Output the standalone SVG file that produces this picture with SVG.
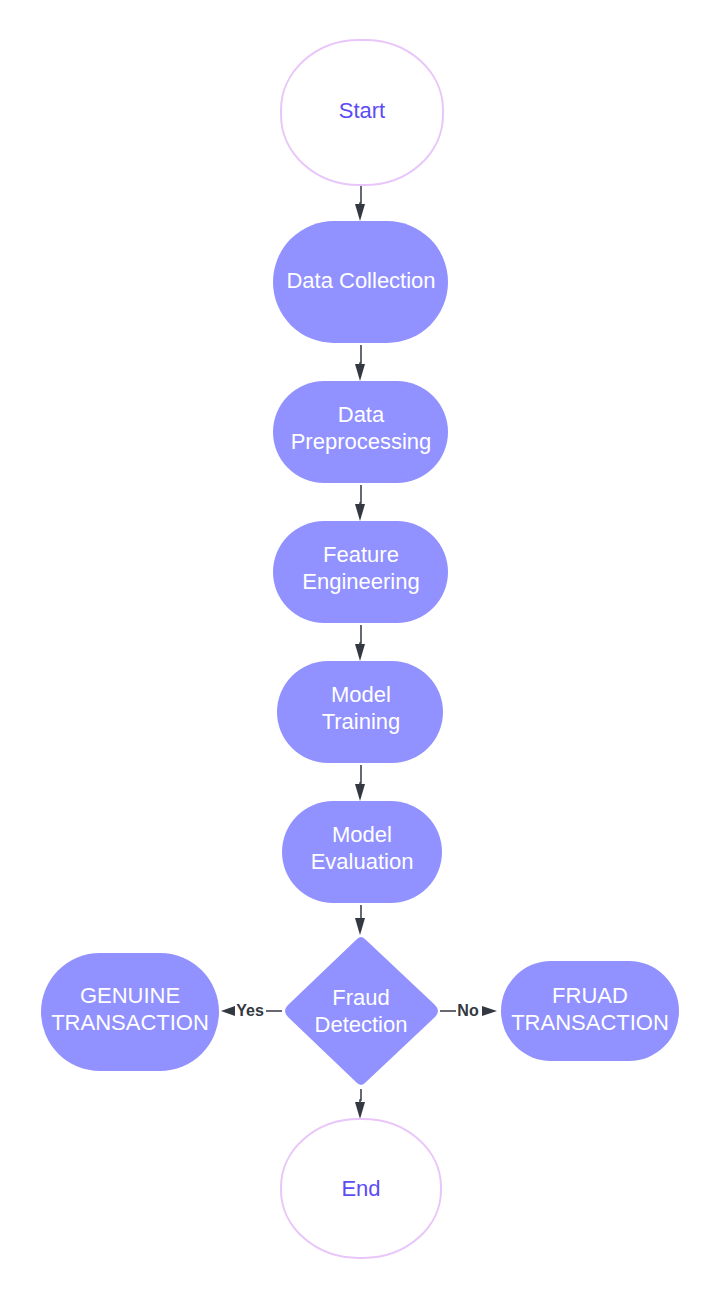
<svg xmlns="http://www.w3.org/2000/svg" width="728" height="1298" viewBox="0 0 728 1298">
<defs>
<style>
.node{fill:#9191FF;}
.term{fill:#FFFFFF;stroke:#E9C6F9;stroke-width:2;}
.t{font-family:"Liberation Sans",Arial,sans-serif;font-size:22px;fill:#FFFFFF;text-anchor:middle;}
.tt{font-family:"Liberation Sans",Arial,sans-serif;font-size:22px;fill:#5C4CF5;text-anchor:middle;}
.lbl{font-family:"Liberation Sans",Arial,sans-serif;font-size:16px;font-weight:bold;fill:#333841;text-anchor:middle;}
.c{fill:none;stroke:#333841;stroke-width:1.5;}
.ah{fill:#333841;}
</style>
</defs>
<rect width="728" height="1298" fill="#FFFFFF"/>
<g id="connectors">
<path class="c" d="M361 185 V203 H360 V208"/>
<polygon class="ah" points="355,204 365,204 360,221"/>
<path class="c" d="M361 345 V363 H360 V368"/>
<polygon class="ah" points="355,364 365,364 360,381"/>
<path class="c" d="M361 485 V503 H360 V508"/>
<polygon class="ah" points="355,504 365,504 360,521"/>
<path class="c" d="M361 625 V643 H360 V648"/>
<polygon class="ah" points="355,644 365,644 360,661"/>
<path class="c" d="M361 765 V783 H360 V788"/>
<polygon class="ah" points="355,784 365,784 360,801"/>
<path class="c" d="M361 905 V920 H360 V922"/>
<polygon class="ah" points="355,918 365,918 360,935"/>
<path class="c" d="M361 1089 V1100 H360 V1106"/>
<polygon class="ah" points="355,1102 365,1102 360,1119"/>
<path class="c" d="M282 1011 H266"/>
<text class="lbl" x="250" y="1016">Yes</text>
<polygon class="ah" points="235,1006 235,1016 221,1011"/>
<path class="c" d="M440 1011 H456"/>
<text class="lbl" x="468" y="1016">No</text>
<polygon class="ah" points="482,1006 482,1016 497,1011"/>
</g>
<g id="start">
<rect class="term" x="281" y="40" width="162" height="145" rx="78" ry="70"/>
<text class="tt" x="362" y="118">Start</text>
</g>
<g id="data-collection">
<rect class="node" x="273" y="221" width="175" height="122" rx="61" ry="61"/>
<text class="t" x="361" y="288">Data Collection</text>
</g>
<g id="data-preprocessing">
<rect class="node" x="273" y="381" width="175" height="102" rx="51" ry="51"/>
<text class="t" x="361" y="422">Data</text>
<text class="t" x="361" y="449">Preprocessing</text>
</g>
<g id="feature-engineering">
<rect class="node" x="273" y="521" width="175" height="102" rx="51" ry="51"/>
<text class="t" x="361" y="562">Feature</text>
<text class="t" x="361" y="589">Engineering</text>
</g>
<g id="model-training">
<rect class="node" x="277" y="661" width="166" height="102" rx="51" ry="51"/>
<text class="t" x="361" y="702">Model</text>
<text class="t" x="361" y="729">Training</text>
</g>
<g id="model-evaluation">
<rect class="node" x="282" y="801" width="160" height="102" rx="51" ry="51"/>
<text class="t" x="362" y="842">Model</text>
<text class="t" x="362" y="869">Evaluation</text>
</g>
<g id="fraud-detection">
<path class="node" d="M356 940 Q361 934 366 940 L435 1005 Q441 1011 435 1017 L366 1082 Q361 1088 356 1082 L288 1017 Q282 1011 288 1005 Z"/>
<text class="t" x="361" y="1005">Fraud</text>
<text class="t" x="361" y="1032">Detection</text>
</g>
<g id="genuine-transaction">
<rect class="node" x="41" y="953" width="178" height="118" rx="59" ry="59"/>
<text class="t" x="130" y="1003">GENUINE</text>
<text class="t" x="130" y="1030">TRANSACTION</text>
</g>
<g id="fruad-transaction">
<rect class="node" x="501" y="961" width="178" height="100" rx="50" ry="50"/>
<text class="t" x="590" y="1003">FRUAD</text>
<text class="t" x="590" y="1030">TRANSACTION</text>
</g>
<g id="end">
<rect class="term" x="281" y="1119" width="160" height="139" rx="78" ry="68"/>
<text class="tt" x="361" y="1196">End</text>
</g>
</svg>
